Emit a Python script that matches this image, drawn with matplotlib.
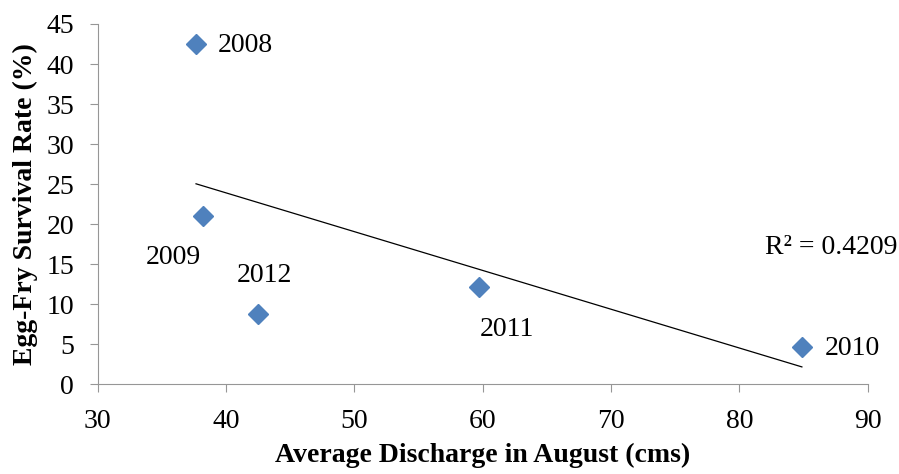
import numpy as np
import matplotlib
matplotlib.use("Agg")
import matplotlib.pyplot as plt

plt.rcParams["font.family"] = ["Liberation Serif", "DejaVu Serif"]

# datos
anios = ["2008", "2009", "2012", "2011", "2010"]
caudal = [37.66, 38.2, 42.5, 59.7, 84.87]
supervivencia = [42.46, 21.0, 8.74, 12.2, 4.66]
texto_r2 = "R² = 0.4209"

# desplazamiento de cada etiqueta (pixeles)
offsets = {"2008": (22, -1, "left"), "2009": (-30, -41, "center"),
           "2012": (6, 39, "center"), "2011": (28, -43, "center"),
           "2010": (23, -1, "left")}

fig = plt.figure(figsize=(8.99, 4.74), dpi=100)
ax = fig.add_axes([0.1087, 0.1892, 0.8565, 0.7602])

ax.plot(caudal, supervivencia, linestyle="none", marker="D", markersize=10,
        color="#4F81BD")

# linea de tendencia
m, b = np.polyfit(caudal, supervivencia, 1)
xt = np.array([min(caudal), max(caudal)])
ax.plot(xt, m * xt + b, color="black", linewidth=0.9)

for a, x, y in zip(anios, caudal, supervivencia):
    dx, dy, ha = offsets[a]
    ax.annotate(a, (x, y), xytext=(dx, dy), textcoords="offset pixels",
                ha=ha, va="center", fontsize=20)

ax.text(92.3, 17.1, texto_r2, ha="right", va="center", fontsize=20)

ax.set_xlim(30, 90)
ax.set_ylim(0, 45)
ax.set_xticks(range(30, 91, 10))
ax.set_yticks(range(0, 46, 5))
for s in ["top", "right"]:
    ax.spines[s].set_visible(False)
for s in ["left", "bottom"]:
    ax.spines[s].set_color("#969696")
ax.tick_params(colors="#969696", labelcolor="black", labelsize=20,
               length=6, direction="out")
ax.tick_params(axis="x", pad=12)
ax.tick_params(axis="y", pad=11)
ax.set_xlabel("Average Discharge in August (cms)", fontsize=20,
              fontweight="bold", labelpad=6)
ax.set_ylabel("Egg-Fry Survival Rate (%)", fontsize=20, fontweight="bold",
              labelpad=6)

fig.savefig("out.png", dpi=100)
